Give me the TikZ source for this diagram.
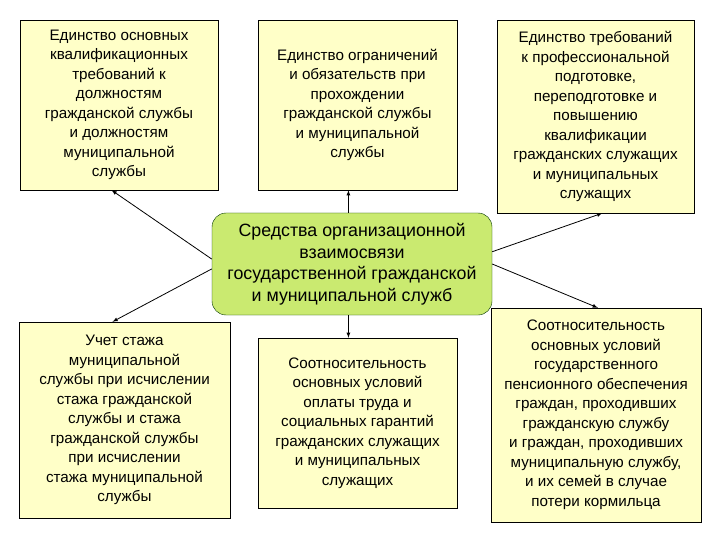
\documentclass[tikz,border=0pt]{standalone}
\usepackage{fontspec}
\setmainfont{Liberation Sans}
\begin{document}
\begin{tikzpicture}  [
    x=1pt, y=-1pt,
    box/.style={draw=black, fill=myyellow, align=center, inner sep=0pt, font=\fontsize{15.2}{19.5}\selectfont},
    hub/.style={draw=black!80!green, fill=mygreen, rounded corners=14pt, align=center, inner sep=0pt, font=\fontsize{17.8}{21.5}\selectfont},
    link/.style={thick, -latex},
  ]

\definecolor{myyellow}{RGB}{255, 255, 200}
\definecolor{mygreen}{RGB}{202, 234, 112}

\fill[white] (0,0) rectangle (720,540);
\useasboundingbox (0,0) rectangle (720,540);

%top row
\node[box, minimum width=198pt, minimum height=170pt] (tl) at (119,105) {Единство основных\\квалификационных\\требований к\\должностям\\гражданской службы\\и должностям\\муниципальной\\службы};
\node[box, minimum width=199pt, minimum height=170pt] (tm) at (357.5,105) {Единство ограничений\\и обязательств при\\прохождении\\гражданской службы\\и муниципальной\\службы};
\node[box, minimum width=197pt, minimum height=193pt] (tr) at (595.5,116.5) {Единство требований\\к профессиональной\\подготовке,\\переподготовке и\\повышению\\квалификации\\гражданских служащих\\и муниципальных\\служащих};

%centre
\node[hub, minimum width=280pt, minimum height=102pt] (ctr) at (352,264) {Средства организационной\\взаимосвязи\\государственной гражданской\\и муниципальной служб};

%bottom row
\node[box, minimum width=211pt, minimum height=196pt] (bl) at (124.5,420) {Учет стажа\\муниципальной\\службы при исчислении\\стажа гражданской\\службы и стажа\\гражданской службы\\при исчислении\\стажа муниципальной\\службы};
\node[box, minimum width=199pt, minimum height=170pt] (bm) at (357.5,423) {Соотносительность\\основных условий\\оплаты труда и\\социальных гарантий\\гражданских служащих\\и муниципальных\\служащих};
\node[box, minimum width=210pt, minimum height=214pt] (br) at (596,415) {Соотносительность\\основных условий\\государственного\\пенсионного обеспечения\\граждан, проходивших\\гражданскую службу\\и граждан, проходивших\\муниципальную службу,\\и их семей в случае\\потери кормильца};

%arrows
\draw[link] (ctr.178) -- (tl.265);
\draw[link] (ctr.94) -- (ctr.94 |- tm.south);
\draw[link] (ctr.5) -- (tr.274);
\draw[link] (ctr.182) -- (bl.97);
\draw[link] (ctr.266) -- (ctr.266 |- bm.north);
\draw[link] (ctr.0) -- (br.89);

\end{tikzpicture}
\end{document}
